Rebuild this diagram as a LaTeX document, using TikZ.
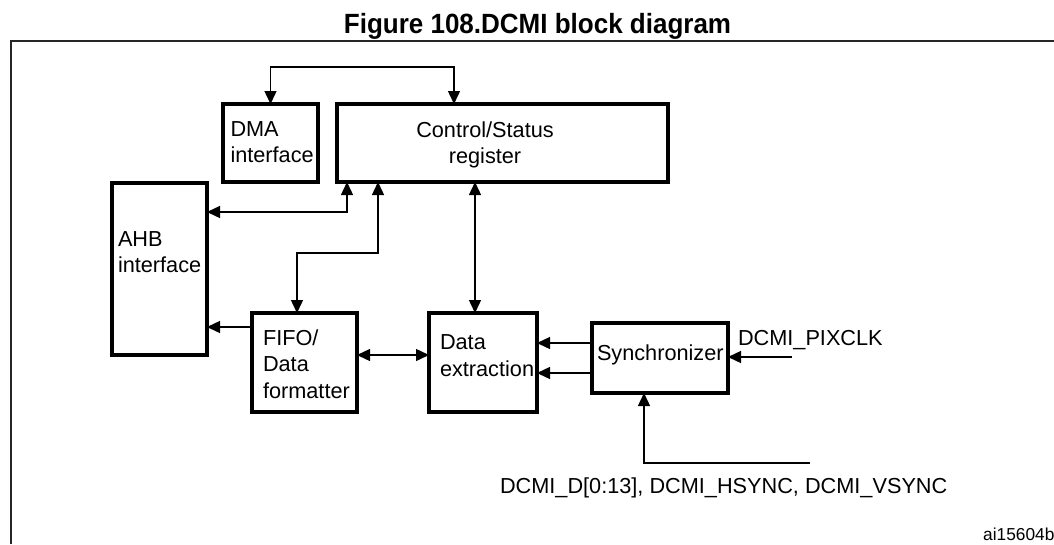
\documentclass[tikz,border=0pt]{standalone}
\usepackage{fontspec}
\setmainfont{Liberation Sans}
\usetikzlibrary{arrows.meta}
\tikzset{
  blk/.style={draw, line width=3.4pt, rectangle, inner sep=0pt, outer sep=0pt},
  lbl/.style={inner sep=0pt, outer sep=0pt, font=\fontsize{21.7}{26}\selectfont, align=left},
  conn/.style={line width=1.4pt, arrows={-Triangle[length=13pt,width=12pt]}},
  conn2/.style={line width=1.4pt, arrows={Triangle[length=13pt,width=12pt]-Triangle[length=13pt,width=12pt]}},
}
\begin{document}
\begin{tikzpicture}[x=1pt,y=-1pt]
\useasboundingbox (0,0) rectangle (1054,544);
% frame
\draw[line width=2pt, draw=black!85] (11,544) coordinate (fb) -- (11,41) coordinate (fc) -- (1056,41) coordinate (fr);
% title
\node[inner sep=0pt, anchor=base, font=\fontsize{26}{30}\selectfont\bfseries] (title) at (537.5,33) {\scalebox{1}[1.07]{Figure 108.DCMI block diagram}};
% blocks
\node[blk, minimum width=95pt, minimum height=78pt] (dma) at (270.5,143) {};
\node[blk, minimum width=331pt, minimum height=78pt] (csr) at (502.5,143) {};
\node[blk, minimum width=95pt, minimum height=172pt] (ahb) at (159.5,269) {};
\node[blk, minimum width=105pt, minimum height=99pt] (fifo) at (304.5,362.5) {};
\node[blk, minimum width=108pt, minimum height=99pt] (de) at (483,362.5) {};
\node[blk, minimum width=136pt, minimum height=70pt] (sync) at (660,358) {};
% block texts
\node[lbl, anchor=north west] (tdma) at (230.5,121.5) {DMA\\interface};
\node[lbl, anchor=north, align=center] (tcsr) at (485,121.5) {Control/Status\\register};
\node[lbl, anchor=north west] (tahb) at (118,231.5) {AHB\\interface};
\node[lbl, anchor=north west, font=\fontsize{21.7}{26.5}\selectfont] (tfifo) at (263,329.5) {FIFO/\\Data\\formatter};
\node[lbl, anchor=north west, font=\fontsize{21.7}{27}\selectfont] (tde) at (440,334.5) {Data\\extraction};
\node[lbl, anchor=base west] (tsync) at (597,360) {Synchronizer};
% outside labels
\node[lbl, anchor=base west] (pix) at (738,345) {DCMI\_PIXCLK};
\node[lbl, anchor=base west] (dsig) at (500,493) {DCMI\_D[0:13], DCMI\_HSYNC, DCMI\_VSYNC};
\node[inner sep=0pt, anchor=base west, font=\fontsize{17.3}{20}\selectfont] (ref) at (983,540) {ai15604b};
% coordinates for connector routes
\coordinate (t1) at (454,67);
\coordinate (c1) at (347,212);
\coordinate (c2) at (378,253);
\coordinate (c3) at (297,253);
\coordinate (c4) at (475,250);
\coordinate (c5) at (230,327);
\coordinate (c6) at (390,355);
\coordinate (c7) at (560,343);
\coordinate (c8) at (560,373);
\coordinate (pixend) at (792,357);
\coordinate (dend) at (810,463);
\coordinate (dcor) at (644,463);
% connectors
\draw[conn2] (dma.north) |- (t1) -- (csr.north -| t1);
\draw[conn2] (csr.south -| c1) -- (c1) -- (ahb.east |- c1);
\draw[conn2] (csr.south -| c2) -- (c2) -- (c3) -- (fifo.north -| c3);
\draw[conn2] (csr.south -| c4) -- (de.north -| c4);
\draw[conn] (fifo.west |- c5) -- (ahb.east |- c5);
\draw[conn2] (fifo.east |- c6) -- (de.west |- c6);
\draw[conn] (sync.west |- c7) -- (de.east |- c7);
\draw[conn] (sync.west |- c8) -- (de.east |- c8);
\draw[conn] (pixend) -- (sync.east |- pixend);
\draw[conn] (dend) -- (dcor) -- (sync.south -| dcor);
\end{tikzpicture}
\end{document}
